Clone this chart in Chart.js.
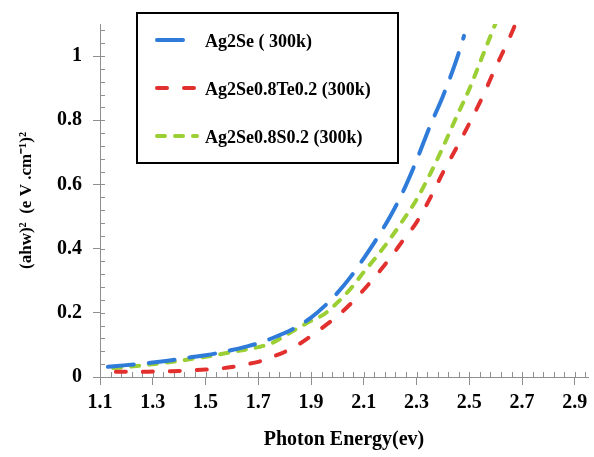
<!DOCTYPE html>
<html><head><meta charset="utf-8">
<script src="https://cdn.jsdelivr.net/npm/chart.js@4.4.0/dist/chart.umd.min.js"></script>
<style>html,body{margin:0;padding:0;background:#fff;}#wrap{width:594px;height:457px;position:relative;}</style>
</head><body><div id="wrap"><canvas id="c"></canvas></div>
<script>
// ---- data ----
const xTickLabels = ['1.1','1.3','1.5','1.7','1.9','2.1','2.3','2.5','2.7','2.9'];
const yTickLabels = ['0','0.2','0.4','0.6','0.8','1'];
const seriesNames = ['Ag2Se ( 300k)', 'Ag2Se0.8Te0.2 (300k)', 'Ag2Se0.8S0.2 (300k)'];

const energyAg2Se = [1.13,1.2,1.25,1.3,1.35,1.4,1.45,1.5,1.55,1.6,1.65,1.7,1.75,1.8,1.85,1.9,1.95,2.0,2.05,2.1,2.15,2.2,2.25,2.3,2.35,2.4,2.45,2.48];
const valuesAg2Se = [0.032,0.037,0.041,0.045,0.05,0.056,0.062,0.068,0.075,0.084,0.094,0.105,0.12,0.137,0.158,0.185,0.22,0.262,0.312,0.37,0.432,0.50,0.58,0.675,0.78,0.875,0.985,1.063];

const energyTe = [1.16,1.2,1.25,1.3,1.35,1.4,1.45,1.5,1.55,1.6,1.65,1.7,1.75,1.8,1.85,1.9,1.95,2.0,2.05,2.1,2.15,2.2,2.25,2.3,2.35,2.4,2.45,2.5,2.55,2.6,2.65,2.675];
const valuesTe = [0.016,0.016,0.016,0.017,0.018,0.019,0.021,0.023,0.026,0.031,0.039,0.047,0.062,0.078,0.1,0.128,0.158,0.19,0.228,0.272,0.32,0.371,0.427,0.482,0.555,0.637,0.712,0.79,0.873,0.965,1.052,1.1];

const energyS = [1.15,1.2,1.25,1.3,1.35,1.4,1.45,1.5,1.55,1.6,1.65,1.7,1.75,1.8,1.85,1.9,1.95,2.0,2.05,2.1,2.15,2.2,2.25,2.3,2.35,2.4,2.45,2.5,2.55,2.6];
const valuesS = [0.028,0.031,0.035,0.04,0.045,0.05,0.057,0.063,0.07,0.078,0.085,0.093,0.105,0.128,0.152,0.175,0.196,0.232,0.275,0.327,0.377,0.431,0.49,0.553,0.63,0.716,0.808,0.897,1.0,1.103];

const axisMinX = 1.1, axisMaxX = 2.95, axisMinY = 0, axisMaxY = 1.1, minorStep = 0.04;
// ---------------------------------------

const pts = (xs, ys) => xs.map((x, i) => ({x, y: ys[i]}));
const FONT = '"Liberation Serif","Times New Roman",serif';
const AXIS = '#8f8f8f';

const minorTicks = {
  id: 'minorTicks',
  beforeDatasetsDraw(chart) {
    const {ctx, scales: {x, y}} = chart;
    ctx.save();
    ctx.strokeStyle = AXIS; ctx.lineWidth = 1;
    ctx.beginPath();
    for (let k = 0; ; k++) {
      const v = axisMinX + k * minorStep;
      if (v > axisMaxX + 1e-9) break;
      const px = Math.round(x.getPixelForValue(v)) + 0.5;
      ctx.moveTo(px, y.bottom); ctx.lineTo(px, y.bottom - 5);
    }
    for (let k = 0; ; k++) {
      const v = axisMinY + k * minorStep;
      if (v > axisMaxY + 1e-9) break;
      const py = Math.round(y.getPixelForValue(v)) + 0.5;
      ctx.moveTo(x.left, py); ctx.lineTo(x.left + 5, py);
    }
    ctx.stroke();
    ctx.restore();
  }
};

const boxLegend = {
  id: 'boxLegend',
  afterDraw(chart) {
    const {ctx, chartArea: ca} = chart;
    const bx = ca.left + 37, by = ca.top - 11, bw = 261, bh = 150;
    ctx.save();
    ctx.fillStyle = '#fff';
    ctx.fillRect(bx, by, bw, bh);
    ctx.strokeStyle = '#000'; ctx.lineWidth = 2;
    ctx.strokeRect(bx, by, bw, bh);
    const rows = [27, 75, 123];
    chart.data.datasets.forEach((ds, i) => {
      const yy = by + rows[i];
      ctx.strokeStyle = ds.borderColor; ctx.lineWidth = ds.borderWidth;
      ctx.lineCap = 'round';
      ctx.setLineDash(ds.borderDash);
      ctx.beginPath(); ctx.moveTo(bx + 20, yy); ctx.lineTo(bx + 60, yy); ctx.stroke();
      ctx.setLineDash([]);
      ctx.fillStyle = '#000';
      ctx.font = 'bold 18px ' + FONT;
      ctx.textBaseline = 'middle'; ctx.textAlign = 'left';
      ctx.fillText(ds.label, bx + 68, yy + 2);
    });
    ctx.restore();
  }
};

new Chart(document.getElementById('c'), {
  type: 'line',
  data: {
    datasets: [
      {label: seriesNames[0], data: pts(energyAg2Se, valuesAg2Se), borderColor: '#2f7bd9', borderWidth: 4, borderDash: [26, 15]},
      {label: seriesNames[1], data: pts(energyTe, valuesTe), borderColor: '#e2302e', borderWidth: 4, borderDash: [10, 17]},
      {label: seriesNames[2], data: pts(energyS, valuesS), borderColor: '#9bcf34', borderWidth: 4, borderDash: [8, 10]}
    ].map(d => Object.assign(d, {pointRadius: 0, fill: false, tension: 0.4, cubicInterpolationMode: 'monotone', borderCapStyle: 'round', borderJoinStyle: 'round'}))
  },
  options: {
    responsive: true, maintainAspectRatio: false, animation: false, devicePixelRatio: 1,
    layout: {padding: {top: 24, right: 6, left: 0, bottom: 0}},
    plugins: {legend: {display: false}, tooltip: {enabled: false}},
    scales: {
      x: {
        type: 'linear', min: axisMinX, max: axisMaxX,
        afterBuildTicks: s => { s.ticks = xTickLabels.map(t => ({value: parseFloat(t)})); },
        afterFit: s => { s.height = 80; },
        grid: {drawOnChartArea: false, drawTicks: true, tickLength: 8, color: AXIS},
        border: {display: true, color: AXIS, width: 1},
        ticks: {callback: (v, i) => xTickLabels[i], color: '#000', font: {family: FONT, size: 20, weight: 'bold'}, padding: 6, maxRotation: 0, autoSkip: false},
        title: {display: true, text: 'Photon Energy(ev)', color: '#000', font: {family: FONT, size: 20, weight: 'bold'}, padding: {top: 0, bottom: 5}}
      },
      y: {
        type: 'linear', min: axisMinY, max: axisMaxY,
        afterBuildTicks: s => { s.ticks = yTickLabels.map(t => ({value: parseFloat(t)})); },
        afterFit: s => { s.width = 100; },
        grid: {drawOnChartArea: false, drawTicks: true, tickLength: 7, color: AXIS},
        border: {display: true, color: AXIS, width: 1},
        ticks: {callback: (v, i) => yTickLabels[i], color: '#000', font: {family: FONT, size: 20, weight: 'bold'}, padding: 11, autoSkip: false},
        title: {display: true, text: '(ahw)²  (e V .cm⁻¹)²', color: '#000', font: {family: FONT, size: 17, weight: 'bold'}, padding: {top: 16, bottom: 0}}
      }
    }
  },
  plugins: [minorTicks, boxLegend]
});
</script></body></html>
